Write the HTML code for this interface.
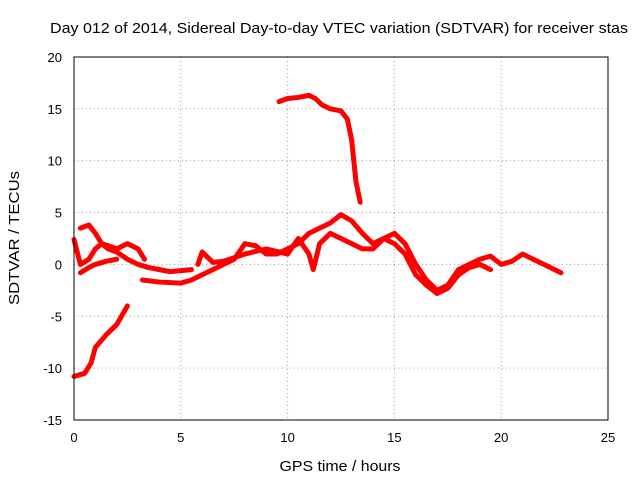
<!DOCTYPE html>
<html><head><meta charset="utf-8"><style>
body{margin:0;background:#fff}
svg text{font-family:"Liberation Sans",sans-serif;font-size:13px;fill:#000}
</style></head><body>
<svg width="640" height="480" viewBox="0 0 640 480">
<rect width="640" height="480" fill="#fff"/>
<text x="50" y="33" style="font-size:15px" textLength="578" lengthAdjust="spacingAndGlyphs">Day 012 of 2014, Sidereal Day-to-day VTEC variation (SDTVAR) for receiver stas</text>
<g id="grid"></g>
<g id="ticks"></g>
<g id="series"></g>
<rect x="74" y="57" width="534" height="363" fill="none" stroke="#000" stroke-width="1"/>
<text x="340" y="471" text-anchor="middle" style="font-size:15px" textLength="121" lengthAdjust="spacingAndGlyphs">GPS time / hours</text>
<text transform="translate(19,238) rotate(-90)" text-anchor="middle" style="font-size:15px" textLength="134" lengthAdjust="spacingAndGlyphs">SDTVAR / TECUs</text>
</svg>
<script>
const xTicks=[0,5,10,15,20,25];
const yTicks=[-15,-10,-5,0,5,10,15,20];
const seriesUpper=[[9.6,15.7],[10,16],[10.5,16.1],[11,16.3],[11.3,16],[11.6,15.4],[12,15],[12.5,14.8],[12.8,14],[13,12],[13.2,8],[13.4,6]];
const seriesLower=[[0,-10.8],[0.5,-10.5],[0.8,-9.5],[1,-8],[1.5,-6.8],[2,-5.8],[2.5,-4]];
const seriesA=[[0.3,3.5],[0.7,3.8],[1,3],[1.3,2],[1.6,1.5],[2,1.2],[2.5,0.5],[3,0],[3.5,-0.3],[4,-0.5],[4.5,-0.7],[5,-0.6],[5.5,-0.5]];
const seriesB=[[0,2.4],[0.3,0],[0.7,0.5],[1,1.5],[1.3,2],[1.6,1.8],[2,1.5],[2.5,2],[3,1.5],[3.3,0.5]];
const seriesC=[[0.3,-0.8],[0.7,-0.3],[1,0],[1.5,0.3],[2,0.5]];
const seriesD=[[3.2,-1.5],[4,-1.7],[5,-1.8],[5.5,-1.5],[6,-1],[6.5,-0.5],[7,0],[7.5,0.5],[8,2],[8.5,1.8],[9,1],[9.5,1],[10,1.5],[10.5,2],[11,3],[11.5,3.5],[12,4],[12.5,4.8],[13,4.2],[13.5,3],[14,2],[14.5,2.5],[15,3],[15.5,2],[16,0],[16.5,-1.5],[17,-2.5],[17.5,-2],[18,-0.5],[18.5,0],[19,0.5],[19.5,0.8],[20,0],[20.5,0.3],[21,1],[21.5,0.5],[22,0],[22.5,-0.5],[22.8,-0.8]];
const seriesE=[[5.8,0],[6,1.2],[6.5,0.2],[7,0.3],[8,1],[9,1.5],[10,1],[10.5,2.5],[11,1],[11.2,-0.5],[11.5,2],[12,3],[12.5,2.5],[13,2],[13.5,1.5],[14,1.5],[14.5,2.5],[15,2],[15.5,1],[16,-1],[16.5,-2],[17,-2.8],[17.5,-2.3],[18,-1],[18.5,-0.3],[19,0],[19.5,-0.5]];
const NS='http://www.w3.org/2000/svg';
const X0=74,X1=608,Y0=420,Y1=57;
const sx=v=>X0+(v-0)/(25-0)*(X1-X0);
const sy=v=>Y0-(v+15)/(35)*(Y0-Y1);
const grid=document.getElementById('grid'),ticks=document.getElementById('ticks'),ser=document.getElementById('series');
function mk(t,a,p){const e=document.createElementNS(NS,t);for(const k in a)e.setAttribute(k,a[k]);p.appendChild(e);return e;}
xTicks.forEach(v=>{
 const g=mk('line',{x1:sx(v),x2:sx(v),y1:Y1,y2:Y0,stroke:'#a0a0a0','stroke-dasharray':'1,3'},grid);
 
 
 const t=mk('text',{x:sx(v),y:Y0+22,'text-anchor':'middle'},ticks);t.textContent=v;
 
 
});
yTicks.forEach(v=>{
 const g=mk('line',{x1:X0,x2:X1,y1:sy(v),y2:sy(v),stroke:'#a0a0a0','stroke-dasharray':'1,3'},grid);
 
 
 const t=mk('text',{x:X0-12,y:sy(v)+5,'text-anchor':'end'},ticks);t.textContent=v;
 
 
});
[seriesUpper,seriesLower,seriesA,seriesB,seriesC,seriesD,seriesE].forEach(s=>{
 const p=mk('polyline',{points:s.map(d=>sx(d[0])+','+sy(d[1])).join(' '),fill:'none',stroke:'#f00','stroke-width':5,'stroke-linejoin':'round','stroke-linecap':'round'},ser);
 
 
});
</script>
</body></html>
